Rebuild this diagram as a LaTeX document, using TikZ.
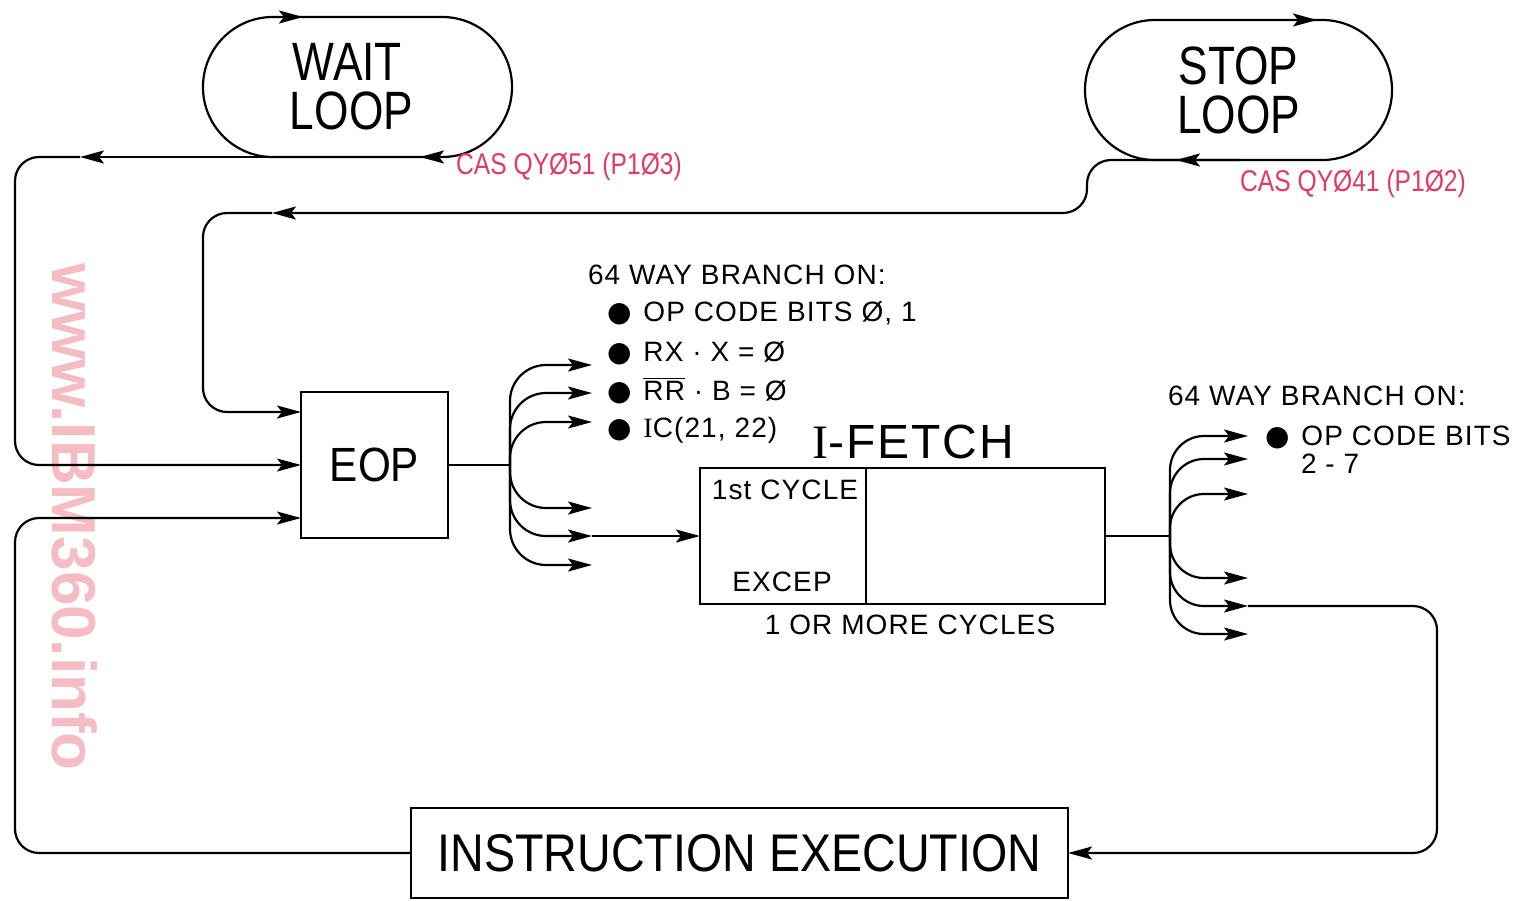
\documentclass[tikz,border=0pt]{standalone}
\usepackage{fontspec}
\setmainfont{Liberation Sans}
\newfontfamily\loopfont[FakeStretch=0.82]{Liberation Sans}
\newfontfamily\cfont[FakeStretch=0.88]{Liberation Sans}
\newfontfamily\lblfont[LetterSpace=4]{Liberation Sans}
\newfontfamily\notefont[FakeStretch=0.82]{Liberation Sans}
\newfontfamily\symfont{DejaVu Sans}
\newfontfamily\seriffont{Liberation Serif}
\usetikzlibrary{arrows.meta}
\definecolor{inkred}{HTML}{E23A60}
\definecolor{wmark}{HTML}{F6BCC4}
\newcommand{\bul}{{\symfont ●}}
\begin{document}
\begin{tikzpicture}[x=0.5pt,y=-0.5pt,line width=1.1pt,
  every node/.style={outer sep=0pt},
  arr/.style={-{Stealth[length=12pt,width=6.5pt,inset=2.5pt]}},
  wire/.style={rounded corners=12pt},
  loopbox/.style={draw,rectangle,rounded corners=34.9pt,minimum height=70pt,align=center,
    font=\loopfont\fontsize{27}{24.5}\selectfont},
  box/.style={draw,rectangle,inner sep=0pt},
  lbl/.style={font=\lblfont\fontsize{14}{16}\selectfont,inner sep=0pt,anchor=west},
  note/.style={text=inkred,font=\notefont\fontsize{15}{17}\selectfont,inner sep=0pt}]
\useasboundingbox (0,0) rectangle (1513,900);
\fill[white] (0,0) rectangle (1513,900);

% watermark
\node[rotate=-90,text=wmark,font=\bfseries\fontsize{31}{31}\selectfont,inner sep=0pt] (wm) at (75,517) {www.IBM360.info};

% loops
\node[loopbox,minimum width=154.5pt] (wait) at (357.5,87) {WAIT\hspace*{10pt}\\LOOP\hspace*{6pt}};
\node[loopbox,minimum width=153.5pt] (stop) at (1238.5,90) {STOP\\LOOP};
\draw[arr] ([xshift=35pt]wait.north west) -- ([xshift=50pt]wait.north west);
\draw[arr] ([xshift=-35pt]wait.south east) -- ([xshift=-46pt]wait.south east);
\draw[arr] ([xshift=35pt]stop.north west) -- ([xshift=116pt]stop.north west);
\draw[arr] ([xshift=-35pt]stop.south east) -- ([xshift=-108pt]stop.south east);

\node[note] (n1) at (569,167) {CAS QYØ51 (P1Ø3)};
\node[note] (n2) at (1353,184) {CAS QYØ41 (P1Ø2)};

% boxes
\node[box,minimum width=73.5pt,minimum height=73pt,font=\cfont\fontsize{24}{26}\selectfont] (eop) at (374.5,465) {EOP};
\node[box,minimum width=202.5pt,minimum height=68pt] (ifetch) at (902.5,536) {};
\draw ([xshift=83pt]ifetch.north west) -- ([xshift=83pt]ifetch.south west);
\node[inner sep=0pt,font=\lblfont\fontsize{24}{26}\selectfont] (iflabel) at (913,442) {{\seriffont I}-FETCH};
\node[lbl,anchor=center] (c1) at (785,490) {1st CYCLE};
\node[lbl,anchor=center] (c2) at (782,582) {EXCEP};
\node[lbl,anchor=center] (c3) at (910,625) {1 OR MORE CYCLES};
\node[box,minimum width=328.5pt,minimum height=45pt,font=\cfont\fontsize{26.5}{28}\selectfont] (ie) at (739.5,853) {INSTRUCTION EXECUTION};

% left branch text
\node[lbl] (lh) at (588,275) {64 WAY BRANCH ON:};
\node[lbl] (l1) at (607,313) {\bul\hspace{6pt}OP CODE BITS Ø, 1};
\node[lbl] (l2) at (607,353) {\bul\hspace{6pt}RX · X = Ø};
\node[lbl] (l3) at (607,391) {\bul\hspace{6pt}$\overline{\mbox{RR}}$ · B = Ø};
\node[lbl] (l4) at (607,430) {\bul\hspace{6pt}{\seriffont I}C(21, 22)};

% right branch text
\node[lbl] (rh) at (1168,396) {64 WAY BRANCH ON:};
\node[lbl] (r1) at (1265,437) {\bul\hspace{6pt}OP CODE BITS};
\node[lbl] (r2) at (1301,464) {2 - 7};

% wait loop exit to EOP
\coordinate (w1) at (80,157);
\draw[arr] (wait.south) -- (w1);
\draw[arr,wire] (w1) -| (15,300) |- (eop.west);

% stop loop exit to EOP
\coordinate (s1) at (272,213);
\draw[arr,wire] (stop.south) -| (1087,213) -- (s1);
\draw[arr,wire] (s1) -| (203,300) |- ([yshift=26.5pt]eop.west);

% instruction execution back to EOP
\draw[arr,wire] (ie.west) -| (15,700) |- ([yshift=-26.5pt]eop.west);

% left fan
\coordinate (f1) at (510,465);
\draw (eop.east) -- (f1);
\coordinate (la1) at (592,365);
\coordinate (la2) at (592,393);
\coordinate (la3) at (592,422);
\coordinate (la4) at (592,508);
\coordinate (la5) at (592,536);
\coordinate (la6) at (592,565);
\foreach \n in {1,...,6} \draw[arr,rounded corners=18pt] (f1) |- (la\n);
\draw[arr] (la5) -- (ifetch.west);

% right fan
\coordinate (f2) at (1170,536);
\draw (ifetch.east) -- (f2);
\coordinate (ra1) at (1248,436);
\coordinate (ra2) at (1248,459);
\coordinate (ra3) at (1248,494);
\coordinate (ra4) at (1248,578);
\coordinate (ra5) at (1248,606);
\coordinate (ra6) at (1248,634);
\foreach \n in {1,...,6} \draw[arr,rounded corners=17pt] (f2) |- (ra\n);
\draw[arr,wire] (ra5) -| (1437,700) |- (ie.east);
\end{tikzpicture}
\end{document}
